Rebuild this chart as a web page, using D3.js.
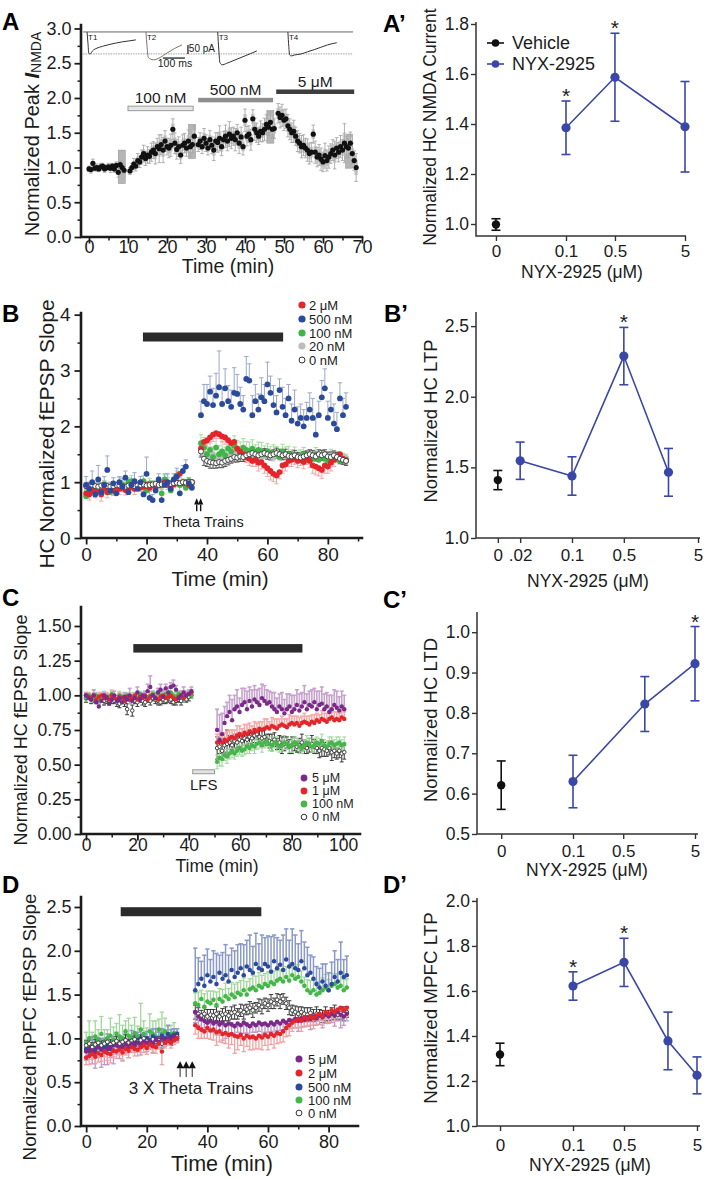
<!DOCTYPE html>
<html><head><meta charset="utf-8"><title>NYX-2925 figure</title>
<script src="https://cdn.jsdelivr.net/npm/d3@7/dist/d3.min.js"></script>
<style>html,body{margin:0;padding:0;background:#fff}svg{display:block}</style>
</head><body>
<svg id="fig" width="712" height="1179" xmlns="http://www.w3.org/2000/svg"></svg>
<script>
/* ========================= DATA ========================= */
// ---- Panel A : normalized peak I_NMDA over time (0.5-min samples) ----
const aTimeStep = 0.5;
const aSegStart = [0, 10.5, 28, 48.5];
const aBaseline = [0.98,0.97,1.06,0.99,1.0,0.98,1.01,1.02,0.98,1.0,1.01,0.99,1.02,0.98,1.03,0.93,1.04,1.0,0.96];
const aBaselineErr = [0.04,0.05,0.06,0.04,0.05,0.04,0.05,0.04,0.05,0.04,0.05,0.06,0.04,0.05,0.05,0.07,0.05,0.04,0.05];
const a100nM = [0.95,1.0,1.05,1.02,1.1,1.08,1.15,1.2,1.13,1.18,1.16,1.22,1.25,1.2,1.3,1.27,1.33,1.25,1.38,1.3,1.28,1.32,1.55,1.35,1.26,1.3,1.18,1.32,1.35,1.28,1.38,1.3,1.33,1.45];
const a100nMErr = [0.05,0.06,0.08,0.07,0.1,0.08,0.1,0.12,0.1,0.12,0.1,0.13,0.12,0.15,0.12,0.2,0.14,0.18,0.15,0.12,0.14,0.16,0.15,0.15,0.14,0.14,0.12,0.15,0.14,0.12,0.16,0.14,0.12,0.15];
const a500nM = [1.33,1.38,1.3,1.42,1.35,1.28,1.4,1.32,1.25,1.38,1.36,1.42,1.3,1.4,1.45,1.38,1.48,1.42,1.45,1.4,1.5,1.35,1.44,1.3,1.68,1.45,1.48,1.4,1.7,1.55,1.5,1.45,1.52,1.5,1.55,1.62,1.58,1.65,1.55,1.56];
const a500nMErr = [0.1,0.12,0.1,0.14,0.12,0.1,0.13,0.12,0.15,0.12,0.14,0.18,0.13,0.12,0.16,0.14,0.18,0.15,0.13,0.16,0.12,0.15,0.14,0.12,0.16,0.14,0.12,0.15,0.13,0.16,0.14,0.12,0.15,0.13,0.16,0.14,0.12,0.15,0.13,0.14];
const a5uM = [1.78,1.72,1.75,1.68,1.7,1.6,1.55,1.5,1.52,1.45,1.38,1.35,1.3,1.32,1.28,1.25,1.2,1.22,1.48,1.22,1.15,1.18,1.12,1.08,1.17,1.1,1.15,1.2,1.25,1.18,1.28,1.22,1.3,1.25,1.35,1.3,1.28,1.35,1.2,1.1,1.0];
const a5uMErr = [0.14,0.15,0.16,0.15,0.14,0.16,0.15,0.14,0.16,0.13,0.15,0.14,0.16,0.15,0.14,0.16,0.15,0.14,0.13,0.16,0.14,0.15,0.16,0.14,0.18,0.15,0.16,0.14,0.15,0.2,0.15,0.14,0.16,0.15,0.28,0.15,0.14,0.16,0.15,0.14,0.2];
const aBoxT = [8.4, 26.4, 46.5, 66.7];
const aBoxLo = [0.77, 1.13, 1.35, 0.99];
const aBoxHi = [1.25, 1.62, 1.82, 1.48];
const aDrugLabels = ['100 nM', '500 nM', '5 μM'];
const aDrugStart = [10, 28, 48];
const aDrugEnd = [26.7, 47.2, 68];
const aDrugLevel = [1.85, 1.97, 2.09];
const aDrugFill = ['#e6e6e6', '#8e8e8e', '#3d3d3d'];
// inset current traces (ms, pA)
const traceNames = ['T1','T2','T3','T4'];
const traceOnsetMin = [-0.5, 14.6, 33, 51];
const traceMs = [
  [0,4,8,14,25,45,70,100,130,160,190,222],
  [0,5,10,20,35,55,80,105,130,150,164],
  [0,5,10,20,40,60,90,120,150,178],
  [0,4,8,15,30,60,90,120,150,180,222]];
const tracePA = [
  [0,-60,-118,-122,-105,-90,-80,-70,-62,-55,-50,-44],
  [0,-80,-140,-150,-155,-148,-130,-110,-92,-80,-72],
  [0,-100,-170,-183,-175,-165,-150,-135,-120,-105],
  [0,-80,-128,-133,-128,-122,-110,-98,-85,-72,-60]];

// ---- Panel A' ----
const apVehicle = {mean: 0.998, err: 0.023};
const apDose = [0.1, 0.5, 5];
const apMean = [1.385, 1.587, 1.389];
const apErr = [0.107, 0.176, 0.181];
const apStar = [0.1, 0.5];

// ---- Panel B : HC fEPSP slope (1-min samples) ----
const bBaseT = d3.range(0, 36);
const bPostT = d3.range(38, 87);
const b0Base = [0.93,0.94,0.95,0.93,0.92,0.94,0.95,0.93,0.92,0.93,0.95,0.94,0.93,0.92,0.94,0.95,0.93,0.94,0.95,0.96,0.94,0.95,0.96,0.97,0.95,0.96,0.97,0.98,0.97,0.98,0.99,0.98,1.0,0.99,1.0,1.0];
const b0BaseErr = [0.05,0.04,0.05,0.04,0.05,0.04,0.05,0.04,0.04,0.05,0.04,0.05,0.04,0.04,0.05,0.04,0.05,0.04,0.04,0.05,0.04,0.05,0.04,0.04,0.05,0.04,0.05,0.04,0.04,0.05,0.04,0.04,0.03,0.04,0.03,0.03];
const b0Post = [1.55,1.42,1.38,1.36,1.35,1.34,1.36,1.35,1.38,1.4,1.42,1.45,1.44,1.46,1.45,1.48,1.5,1.52,1.5,1.48,1.5,1.52,1.5,1.48,1.5,1.52,1.5,1.48,1.5,1.47,1.46,1.48,1.45,1.44,1.46,1.48,1.5,1.48,1.46,1.5,1.48,1.5,1.46,1.45,1.48,1.45,1.42,1.4,1.38];
const b0PostErr = [0.1,0.12,0.1,0.11,0.1,0.09,0.1,0.09,0.1,0.09,0.08,0.09,0.08,0.09,0.08,0.08,0.09,0.08,0.08,0.09,0.08,0.08,0.09,0.08,0.08,0.09,0.08,0.08,0.09,0.08,0.08,0.09,0.08,0.08,0.09,0.08,0.08,0.09,0.08,0.08,0.09,0.08,0.08,0.09,0.08,0.08,0.09,0.08,0.08];
const b20Base = [0.95,0.93,0.96,0.92,0.95,0.94,0.93,0.95,0.96,0.94,0.92,0.95,0.96,0.95,0.93,0.96,0.97,0.95,0.94,0.96,0.97,0.95,0.98,0.96,0.97,0.98,0.96,0.99,0.98,0.97,1.0,0.99,0.98,1.0,1.01,1.0];
const b20BaseErr = [0.04,0.05,0.04,0.04,0.05,0.04,0.04,0.05,0.04,0.04,0.05,0.04,0.04,0.05,0.04,0.04,0.05,0.04,0.04,0.05,0.04,0.04,0.05,0.04,0.04,0.05,0.04,0.04,0.05,0.04,0.04,0.05,0.04,0.04,0.05,0.04];
const b20Post = [1.55,1.5,1.48,1.45,1.5,1.42,1.48,1.45,1.5,1.46,1.48,1.5,1.45,1.48,1.5,1.46,1.48,1.45,1.5,1.47,1.45,1.48,1.5,1.46,1.44,1.48,1.45,1.5,1.46,1.48,1.45,1.47,1.44,1.46,1.48,1.45,1.47,1.44,1.46,1.45,1.47,1.44,1.46,1.48,1.45,1.44,1.46,1.45,1.43];
const b20PostErr = [0.07,0.06,0.07,0.06,0.06,0.07,0.06,0.06,0.07,0.06,0.06,0.07,0.06,0.06,0.07,0.06,0.06,0.07,0.06,0.06,0.07,0.06,0.06,0.07,0.06,0.06,0.07,0.06,0.06,0.07,0.06,0.06,0.07,0.06,0.06,0.07,0.06,0.06,0.07,0.06,0.06,0.07,0.06,0.06,0.07,0.06,0.06,0.07,0.06];
const b100Base = [0.75,0.8,0.88,0.92,0.85,0.82,0.95,0.88,0.82,0.9,0.85,0.98,0.95,0.9,1.0,1.02,0.88,0.92,0.95,1.02,0.85,0.98,0.95,0.9,1.02,0.8,1.05,0.98,0.85,1.0,1.12,0.95,1.0,0.9,1.02,0.98];
const b100BaseErr = [0.1,0.08,0.1,0.07,0.09,0.1,0.08,0.1,0.07,0.09,0.08,0.1,0.07,0.09,0.08,0.1,0.07,0.09,0.08,0.1,0.07,0.09,0.08,0.1,0.07,0.09,0.08,0.1,0.07,0.09,0.08,0.07,0.06,0.07,0.06,0.05];
const b100Post = [1.7,1.62,1.5,1.58,1.45,1.62,1.5,1.55,1.48,1.6,1.55,1.65,1.6,1.55,1.62,1.58,1.55,1.6,1.52,1.58,1.55,1.5,1.55,1.48,1.52,1.5,1.45,1.55,1.48,1.5,1.45,1.48,1.42,1.45,1.5,1.4,1.45,1.42,1.48,1.4,1.45,1.42,1.38,1.45,1.4,1.42,1.38,1.4,1.38];
const b100PostErr = [0.15,0.18,0.2,0.15,0.18,0.2,0.16,0.18,0.15,0.2,0.16,0.18,0.15,0.17,0.16,0.15,0.17,0.16,0.15,0.14,0.16,0.15,0.14,0.16,0.15,0.14,0.15,0.13,0.15,0.14,0.13,0.15,0.14,0.13,0.12,0.14,0.13,0.12,0.14,0.13,0.12,0.13,0.12,0.14,0.12,0.13,0.12,0.11,0.12];
const b500Base = [0.95,0.88,1.0,0.78,1.05,0.82,0.95,1.22,0.85,0.98,0.8,1.0,0.92,1.08,0.82,0.95,1.02,0.88,1.0,0.78,1.15,0.72,0.68,0.85,1.05,0.68,0.95,1.0,0.88,1.05,1.1,0.8,1.2,1.28,0.98,0.9];
const b500BaseErr = [0.15,0.12,0.2,0.1,0.25,0.12,0.15,0.25,0.12,0.1,0.18,0.1,0.15,0.12,0.2,0.1,0.15,0.12,0.1,0.15,0.3,0.12,0.1,0.15,0.1,0.12,0.2,0.15,0.12,0.1,0.15,0.12,0.1,0.12,0.1,0.08];
const b500Post = [2.2,2.45,2.4,2.62,2.38,2.55,2.7,2.4,2.68,2.45,2.35,2.6,2.58,2.4,2.3,2.85,2.82,2.2,2.45,2.3,2.52,2.45,2.75,2.6,2.38,2.25,2.65,2.35,2.2,2.5,2.1,2.3,2.05,2.15,2.0,2.15,2.3,2.15,1.85,2.2,2.52,2.68,2.15,2.3,2.05,1.95,2.5,2.2,2.35];
const b500PostErr = [0.25,0.3,0.35,0.28,0.3,0.4,0.65,0.3,0.35,0.28,0.3,0.45,0.35,0.3,0.25,0.4,0.3,0.35,0.3,0.28,0.35,0.3,0.4,0.3,0.35,0.3,0.2,0.35,0.3,0.25,0.3,0.35,0.3,0.25,0.3,0.28,0.3,0.35,0.3,0.25,0.3,0.35,0.3,0.3,0.35,0.3,0.28,0.3,0.25];
const b2uBase = [0.8,0.78,0.85,0.82,0.85,0.78,0.88,0.82,0.9,0.85,0.92,0.88,0.9,0.86,0.9,0.92,0.88,0.95,0.9,0.92,0.95,0.9,0.95,0.92,0.98,0.95,1.0,0.95,0.98,0.96,1.0,1.15,0.98,1.0,0.95,1.0];
const b2uBaseErr = [0.08,0.1,0.08,0.1,0.07,0.12,0.08,0.1,0.07,0.09,0.08,0.1,0.07,0.09,0.08,0.07,0.1,0.08,0.07,0.09,0.08,0.07,0.09,0.08,0.07,0.08,0.06,0.08,0.07,0.06,0.08,0.07,0.06,0.07,0.06,0.05];
const b2uPost = [1.6,1.72,1.75,1.8,1.85,1.88,1.86,1.82,1.8,1.75,1.7,1.72,1.6,1.55,1.5,1.45,1.42,1.38,1.4,1.35,1.36,1.3,1.25,1.2,1.15,1.12,1.18,1.3,1.32,1.38,1.4,1.42,1.38,1.4,1.36,1.42,1.38,1.3,1.28,1.25,1.22,1.3,1.28,1.35,1.4,1.45,1.5,1.42,1.4];
const b2uPostErr = [0.12,0.1,0.12,0.1,0.12,0.1,0.08,0.1,0.12,0.1,0.12,0.1,0.12,0.1,0.12,0.1,0.12,0.1,0.12,0.15,0.12,0.14,0.15,0.16,0.14,0.15,0.12,0.14,0.12,0.1,0.12,0.1,0.12,0.1,0.12,0.1,0.12,0.14,0.15,0.14,0.15,0.14,0.12,0.15,0.12,0.1,0.12,0.1,0.08];
const bDrugBar = {start: 18.8, end: 65.2, level: 3.6};
const bTheta = [36.6, 37.9];

// ---- Panel B' ----
const bpVehicle = {mean: 1.41, err: 0.068};
const bpDose = [0.02, 0.1, 0.5, 2];
const bpMean = [1.547, 1.439, 2.288, 1.465];
const bpErr = [0.132, 0.136, 0.203, 0.169];
const bpStar = [0.5];

// ---- Panel C : HC fEPSP slope, LTD ----
const cBaseT = d3.range(0, 42);
const cPostT = d3.range(51, 101.4, 0.97);
const cPurpleBase = [1.0,0.98,0.97,1.0,0.95,0.92,0.96,1.0,0.98,0.94,0.97,1.0,0.96,0.98,0.95,0.99,0.97,1.0,0.96,0.98,1.02,0.97,1.0,0.99,1.03,1.06,1.0,0.98,1.02,1.04,0.99,1.05,1.02,1.06,1.07,1.04,0.98,1.0,1.02,1.0,1.01,1.03];
const cPurpleBaseErr = [0.02,0.03,0.02,0.04,0.03,0.02,0.03,0.02,0.03,0.04,0.02,0.03,0.02,0.03,0.04,0.03,0.02,0.05,0.03,0.02,0.04,0.03,0.02,0.04,0.05,0.08,0.03,0.04,0.03,0.04,0.05,0.03,0.04,0.03,0.04,0.03,0.05,0.03,0.04,0.03,0.02,0.03];
const cPurplePost = [0.75,0.68,0.72,0.8,0.85,0.88,0.82,0.9,0.92,0.88,0.93,0.95,0.9,0.96,0.92,0.97,0.95,0.93,0.98,0.96,0.94,0.95,0.92,0.9,0.88,0.92,0.9,0.87,0.9,0.92,0.88,0.9,0.93,0.89,0.92,0.95,0.9,0.93,0.92,0.95,0.9,0.93,0.94,0.9,0.92,0.88,0.9,0.93,0.91,0.89,0.92,0.9];
const cPurplePostErr = [0.15,0.18,0.15,0.12,0.1,0.12,0.15,0.1,0.12,0.1,0.12,0.1,0.13,0.1,0.12,0.1,0.09,0.12,0.1,0.11,0.1,0.08,0.1,0.12,0.1,0.09,0.12,0.1,0.11,0.09,0.12,0.1,0.11,0.12,0.1,0.12,0.11,0.1,0.12,0.1,0.13,0.1,0.12,0.11,0.1,0.12,0.1,0.11,0.12,0.1,0.11,0.1];
const cRedBase = [1.0,0.99,0.98,1.0,0.97,0.99,1.0,0.98,0.99,0.97,1.0,0.98,0.97,0.99,0.98,0.96,0.99,0.97,0.98,1.0,0.97,0.99,0.98,1.0,0.97,0.99,1.0,0.98,0.97,0.99,1.0,0.98,0.99,1.0,0.98,0.97,0.99,1.0,0.98,1.0,1.01,1.02];
const cRedBaseErr = [0.02,0.03,0.02,0.04,0.02,0.03,0.02,0.02,0.03,0.02,0.03,0.02,0.02,0.03,0.02,0.04,0.02,0.03,0.02,0.02,0.03,0.02,0.03,0.02,0.02,0.03,0.02,0.03,0.02,0.02,0.03,0.02,0.03,0.02,0.02,0.03,0.02,0.03,0.02,0.02,0.03,0.02];
const cRedPost = [0.66,0.67,0.66,0.68,0.67,0.69,0.7,0.69,0.71,0.72,0.71,0.73,0.72,0.74,0.73,0.75,0.74,0.76,0.75,0.76,0.77,0.76,0.78,0.77,0.76,0.78,0.79,0.78,0.77,0.79,0.8,0.79,0.8,0.78,0.8,0.81,0.8,0.79,0.81,0.8,0.82,0.81,0.83,0.82,0.81,0.83,0.84,0.82,0.83,0.82,0.84,0.83];
const cRedPostErr = [0.06,0.07,0.06,0.05,0.07,0.06,0.05,0.06,0.07,0.06,0.05,0.06,0.07,0.06,0.05,0.06,0.06,0.05,0.06,0.07,0.06,0.05,0.06,0.06,0.07,0.05,0.06,0.05,0.06,0.07,0.05,0.06,0.05,0.06,0.05,0.06,0.05,0.06,0.05,0.06,0.05,0.05,0.06,0.05,0.06,0.05,0.05,0.06,0.05,0.05,0.06,0.05];
const cGreenBase = [0.99,1.0,0.98,0.99,1.0,0.97,0.99,1.0,0.98,0.99,1.01,0.98,0.97,1.0,0.99,0.98,1.0,0.97,0.99,1.0,0.98,1.01,0.99,1.0,0.98,1.0,1.01,0.99,1.02,1.0,0.99,1.01,1.0,1.02,1.0,0.99,1.01,1.0,0.98,1.0,1.01,1.0];
const cGreenBaseErr = [0.03,0.02,0.03,0.03,0.02,0.03,0.02,0.03,0.03,0.02,0.03,0.02,0.03,0.03,0.02,0.03,0.02,0.03,0.03,0.02,0.03,0.02,0.03,0.03,0.02,0.03,0.02,0.03,0.03,0.02,0.03,0.02,0.03,0.03,0.02,0.03,0.02,0.03,0.03,0.02,0.03,0.02];
const cGreenPost = [0.52,0.55,0.54,0.57,0.56,0.58,0.6,0.58,0.6,0.62,0.6,0.61,0.63,0.62,0.64,0.63,0.65,0.66,0.64,0.66,0.67,0.65,0.64,0.66,0.65,0.63,0.64,0.66,0.65,0.63,0.64,0.66,0.65,0.63,0.62,0.64,0.66,0.65,0.63,0.64,0.66,0.65,0.67,0.64,0.63,0.65,0.66,0.64,0.65,0.66,0.64,0.65];
const cGreenPostErr = [0.05,0.06,0.05,0.04,0.05,0.04,0.05,0.04,0.04,0.05,0.04,0.04,0.05,0.04,0.04,0.05,0.04,0.04,0.05,0.04,0.04,0.05,0.04,0.04,0.05,0.04,0.04,0.05,0.04,0.04,0.05,0.04,0.04,0.05,0.04,0.04,0.05,0.04,0.04,0.05,0.04,0.04,0.05,0.04,0.04,0.05,0.04,0.04,0.05,0.04,0.04,0.05];
const cOpenBase = [0.98,0.99,0.97,0.98,0.96,0.97,0.98,0.96,0.97,0.95,0.97,0.96,0.95,0.94,0.96,0.95,0.9,0.97,0.89,0.96,0.95,0.97,0.96,0.95,0.97,0.96,0.98,0.97,0.96,0.95,0.97,0.96,0.98,0.97,0.95,0.96,0.97,0.96,0.98,0.97,0.99,1.0];
const cOpenBaseErr = [0.03,0.02,0.03,0.03,0.02,0.03,0.02,0.03,0.03,0.02,0.03,0.02,0.03,0.03,0.02,0.03,0.04,0.03,0.04,0.02,0.03,0.02,0.03,0.03,0.02,0.03,0.02,0.03,0.03,0.02,0.03,0.02,0.03,0.03,0.02,0.03,0.02,0.03,0.03,0.02,0.03,0.02];
const cOpenPost = [0.62,0.63,0.6,0.64,0.65,0.66,0.64,0.67,0.66,0.68,0.67,0.69,0.68,0.7,0.69,0.71,0.72,0.7,0.69,0.7,0.68,0.67,0.66,0.68,0.65,0.66,0.64,0.65,0.66,0.63,0.64,0.65,0.63,0.64,0.66,0.63,0.62,0.64,0.65,0.63,0.62,0.6,0.62,0.61,0.6,0.62,0.59,0.6,0.58,0.6,0.58,0.59];
const cOpenPostErr = [0.08,0.05,0.06,0.05,0.1,0.05,0.06,0.05,0.04,0.05,0.06,0.05,0.04,0.05,0.06,0.05,0.04,0.05,0.06,0.05,0.04,0.05,0.06,0.05,0.04,0.05,0.06,0.05,0.04,0.05,0.06,0.05,0.04,0.05,0.06,0.05,0.04,0.05,0.06,0.05,0.04,0.05,0.06,0.05,0.04,0.05,0.06,0.05,0.04,0.05,0.06,0.05];
const cDrugBar = {start: 18.4, end: 84.2, level: 1.339};
const cLFS = {start: 41.5, end: 50, level: 0.449};

// ---- Panel C' ----
const cpVehicle = {mean: 0.621, err: 0.06};
const cpDose = [0.1, 1, 5];
const cpMean = [0.63, 0.822, 0.922];
const cpErr = [0.065, 0.068, 0.092];
const cpStar = [5];

// ---- Panel D : mPFC fEPSP slope ----
const dBaseT = d3.range(0, 31);
const dPostT = d3.range(36, 87);
const dBlueBase = [0.88,0.85,0.9,0.87,0.92,0.89,0.9,0.93,0.88,0.92,0.95,0.93,0.9,0.96,0.94,0.97,0.95,0.98,1.0,0.96,1.0,0.98,1.02,1.0,0.97,1.03,1.0,1.05,1.02,1.04,1.05];
const dBlueBaseErr = [0.1,0.08,0.12,0.1,0.09,0.11,0.1,0.12,0.09,0.1,0.12,0.1,0.11,0.09,0.1,0.12,0.1,0.09,0.11,0.1,0.08,0.1,0.09,0.11,0.1,0.08,0.09,0.1,0.08,0.07,0.06];
const dBluePost = [1.55,1.62,1.68,1.6,1.72,1.65,1.7,1.62,1.75,1.68,1.72,1.65,1.78,1.7,1.75,1.8,1.72,1.82,1.78,1.75,1.85,1.8,1.78,1.85,1.82,1.76,1.88,1.8,1.84,1.78,1.9,1.82,1.85,1.8,1.78,1.88,1.8,1.72,1.75,1.68,1.62,1.58,1.65,1.6,1.55,1.62,1.7,1.65,1.75,1.7,1.72];
const dBluePostErr = [0.48,0.3,0.2,0.35,0.3,0.25,0.3,0.35,0.2,0.3,0.35,0.3,0.25,0.3,0.32,0.28,0.35,0.3,0.4,0.3,0.35,0.28,0.4,0.3,0.35,0.4,0.3,0.35,0.28,0.4,0.35,0.3,0.4,0.38,0.3,0.35,0.3,0.32,0.2,0.25,0.2,0.22,0.2,0.25,0.2,0.25,0.3,0.25,0.35,0.2,0.22];
const dGreenBase = [0.95,1.0,0.92,1.02,0.98,1.05,0.95,1.0,1.03,0.98,1.05,1.02,1.0,1.08,1.03,1.0,1.06,1.02,1.1,1.05,1.0,1.08,1.05,1.02,1.1,1.05,1.08,1.02,1.05,1.06,1.03];
const dGreenBaseErr = [0.12,0.2,0.15,0.18,0.12,0.2,0.15,0.1,0.2,0.15,0.12,0.25,0.15,0.12,0.2,0.15,0.18,0.12,0.3,0.15,0.12,0.2,0.15,0.18,0.12,0.25,0.15,0.12,0.1,0.12,0.08];
const dGreenPost = [1.4,1.38,1.45,1.36,1.42,1.4,1.44,1.38,1.45,1.42,1.48,1.45,1.5,1.47,1.52,1.5,1.55,1.5,1.56,1.58,1.55,1.6,1.58,1.62,1.6,1.64,1.62,1.66,1.68,1.65,1.7,1.66,1.72,1.68,1.7,1.65,1.6,1.55,1.52,1.55,1.5,1.52,1.55,1.58,1.55,1.6,1.62,1.58,1.6,1.55,1.58];
const dGreenPostErr = [0.12,0.15,0.1,0.15,0.12,0.14,0.1,0.15,0.12,0.14,0.15,0.12,0.14,0.15,0.12,0.16,0.14,0.15,0.12,0.14,0.16,0.15,0.14,0.12,0.16,0.14,0.15,0.12,0.1,0.14,0.12,0.15,0.1,0.12,0.14,0.12,0.1,0.12,0.14,0.12,0.15,0.12,0.14,0.15,0.12,0.14,0.12,0.15,0.14,0.12,0.1];
const dOpenBase = [0.92,0.94,0.9,0.93,0.95,0.92,0.94,0.96,0.93,0.95,0.97,0.94,0.96,0.98,0.95,0.97,0.99,0.96,0.98,1.0,0.97,0.95,0.99,0.96,0.98,0.94,0.97,0.99,0.98,1.0,1.02];
const dOpenBaseErr = [0.05,0.04,0.05,0.06,0.04,0.05,0.04,0.05,0.06,0.04,0.05,0.04,0.05,0.06,0.04,0.05,0.04,0.05,0.06,0.04,0.05,0.04,0.05,0.06,0.04,0.05,0.04,0.05,0.06,0.04,0.05];
const dOpenPost = [1.3,1.28,1.26,1.28,1.25,1.27,1.26,1.28,1.25,1.27,1.28,1.26,1.29,1.3,1.28,1.32,1.3,1.33,1.35,1.32,1.35,1.38,1.36,1.4,1.38,1.42,1.4,1.44,1.42,1.45,1.4,1.35,1.32,1.3,1.28,1.3,1.28,1.27,1.29,1.26,1.28,1.27,1.25,1.28,1.26,1.28,1.3,1.27,1.29,1.28,1.3];
const dOpenPostErr = [0.08,0.07,0.06,0.07,0.08,0.06,0.07,0.08,0.06,0.07,0.08,0.06,0.07,0.08,0.06,0.07,0.08,0.06,0.07,0.08,0.06,0.07,0.08,0.06,0.07,0.08,0.06,0.07,0.08,0.06,0.07,0.08,0.06,0.07,0.08,0.06,0.07,0.08,0.06,0.07,0.08,0.06,0.07,0.08,0.06,0.07,0.08,0.06,0.07,0.08,0.06];
const dPurpleBase = [0.85,0.88,0.86,0.84,0.9,0.87,0.85,0.88,0.9,0.86,0.92,0.89,0.9,0.93,0.9,0.94,0.92,0.95,0.93,0.96,0.95,0.97,0.94,0.98,0.96,1.0,0.97,1.0,0.98,1.02,1.0];
const dPurpleBaseErr = [0.1,0.12,0.15,0.18,0.12,0.2,0.15,0.18,0.12,0.15,0.1,0.12,0.15,0.1,0.12,0.1,0.08,0.1,0.12,0.08,0.1,0.08,0.1,0.06,0.08,0.1,0.06,0.08,0.05,0.06,0.05];
const dPurplePost = [1.3,1.25,1.22,1.2,1.18,1.2,1.17,1.19,1.16,1.18,1.15,1.17,1.16,1.14,1.17,1.15,1.18,1.16,1.14,1.17,1.15,1.18,1.16,1.17,1.15,1.18,1.16,1.19,1.17,1.2,1.18,1.21,1.2,1.22,1.2,1.23,1.21,1.24,1.22,1.25,1.23,1.26,1.24,1.27,1.25,1.28,1.26,1.3,1.27,1.25,1.28];
const dPurplePostErr = [0.12,0.1,0.12,0.08,0.1,0.12,0.1,0.15,0.12,0.2,0.15,0.12,0.1,0.12,0.1,0.15,0.12,0.1,0.12,0.1,0.08,0.1,0.12,0.1,0.08,0.1,0.12,0.1,0.08,0.1,0.08,0.1,0.08,0.1,0.12,0.1,0.08,0.1,0.12,0.1,0.08,0.1,0.12,0.1,0.08,0.1,0.12,0.1,0.15,0.1,0.08];
const dRedBase = [0.78,0.8,0.82,0.79,0.83,0.81,0.85,0.83,0.82,0.86,0.85,0.87,0.84,0.88,0.86,0.9,0.88,0.87,0.9,0.92,0.89,0.93,0.91,0.9,0.94,0.85,0.95,0.97,0.95,0.98,1.0];
const dRedBaseErr = [0.08,0.1,0.06,0.08,0.1,0.07,0.06,0.08,0.1,0.07,0.08,0.06,0.1,0.07,0.08,0.06,0.08,0.07,0.06,0.08,0.07,0.06,0.08,0.07,0.06,0.15,0.06,0.05,0.06,0.05,0.04];
const dRedPost = [1.15,1.12,1.1,1.08,1.12,1.09,1.1,1.07,1.08,1.05,1.06,1.04,1.05,1.03,1.02,1.04,1.0,1.03,1.01,1.02,1.0,1.03,1.01,1.04,1.02,1.05,1.03,1.06,1.05,1.08,1.12,1.15,1.18,1.2,1.22,1.2,1.24,1.22,1.25,1.23,1.26,1.28,1.25,1.3,1.28,1.32,1.3,1.33,1.35,1.32,1.35];
const dRedPostErr = [0.1,0.12,0.1,0.08,0.12,0.1,0.12,0.15,0.12,0.1,0.12,0.15,0.12,0.2,0.15,0.12,0.15,0.12,0.14,0.15,0.12,0.15,0.14,0.12,0.15,0.12,0.14,0.12,0.1,0.12,0.1,0.12,0.1,0.08,0.1,0.12,0.1,0.08,0.1,0.12,0.1,0.08,0.1,0.08,0.1,0.08,0.1,0.08,0.1,0.08,0.1];
const dDrugBar = {start: 11.4, end: 57.8, level: 2.446};
const dTheta = [31, 33, 35];

// ---- Panel D' ----
const dpVehicle = {mean: 1.318, err: 0.05};
const dpDose = [0.1, 0.5, 2, 5];
const dpMean = [1.622, 1.727, 1.378, 1.225];
const dpErr = [0.063, 0.107, 0.128, 0.082];
const dpStar = [0.1, 0.5];

/* ========================= DRAWING ========================= */
const svg = d3.select('#fig');
const FONT = '"Liberation Sans", Arial, Helvetica, sans-serif';
const INK = '#1c1c1c';
const BLUE_LINE = '#3a47a6';
const ZERO = 0.01; // position used for the "0" (vehicle) category on log axes

function txt(x, y, s, fs, o = {}) {
  const t = svg.append('text').attr('x', x).attr('y', y).text(s)
    .attr('font-size', fs).attr('font-family', FONT).attr('fill', o.fill || INK)
    .attr('text-anchor', o.anchor || 'start');
  if (o.bold) t.attr('font-weight', 'bold');
  if (o.rot) t.attr('transform', `rotate(-90,${x},${y})`).attr('dominant-baseline', 'central');
  return t;
}

function styleAxis(a, fs, labY, isX) {
  a.select('.domain').remove();
  a.selectAll('line').attr('stroke', INK);
  a.selectAll('text').attr('font-size', fs).attr('font-family', FONT).attr('fill', INK);
  if (isX && labY != null) a.selectAll('text').attr('y', labY).attr('dy', 0);
}

function leftPanel(L) {
  const x = d3.scaleLinear().domain(L.xDom).range([L.x0, L.x1]);
  const y = d3.scaleLinear().domain(L.yDom).range([L.yb, L.yt]);
  const g = svg.append('g');
  g.append('g').attr('transform', `translate(0,${L.yb})`)
    .call(d3.axisBottom(x).tickValues(L.xMinor).tickSize(3.5).tickFormat(''))
    .call(a => { styleAxis(a); a.selectAll('line').attr('stroke-width', 1.5); });
  g.append('g').attr('transform', `translate(0,${L.yb})`)
    .call(d3.axisBottom(x).tickValues(L.xTicks).tickSize(6.5).tickFormat(d3.format('d')))
    .call(a => { styleAxis(a, L.fs, L.xLab, true); a.selectAll('line').attr('stroke-width', 1.8); });
  g.append('g').attr('transform', `translate(${L.x0},0)`)
    .call(d3.axisLeft(y).tickValues(L.yMinor).tickSize(3.5).tickFormat(''))
    .call(a => { styleAxis(a); a.selectAll('line').attr('stroke-width', 1.5); });
  g.append('g').attr('transform', `translate(${L.x0},0)`)
    .call(d3.axisLeft(y).tickValues(L.yTicks).tickSize(6.5).tickPadding(L.yPad).tickFormat(d3.format(L.yFmt)))
    .call(a => { styleAxis(a, L.fs); a.selectAll('line').attr('stroke-width', 1.8); });
  g.append('path').attr('d', `M${L.x0},${L.yt}V${L.yb}H${L.x1}`)
    .attr('fill', 'none').attr('stroke', INK).attr('stroke-width', 2.6).attr('stroke-linecap', 'square');
  return {x, y};
}

function rightPanel(R) {
  const x = d3.scaleLog().domain([0.1, 5]).range(R.xr);
  const y = d3.scaleLinear().domain(R.yDom).range([R.yb, R.yt]);
  const X = d => x(d === 0 ? ZERO : d);
  const g = svg.append('g');
  g.append('g').attr('transform', `translate(0,${R.yb})`)
    .call(d3.axisBottom(x).tickValues(R.xTickVals.map(v => v === 0 ? ZERO : v)).tickSize(5)
      .tickFormat((d, i) => R.xTickLabels[i]))
    .call(a => { styleAxis(a, 17, R.xLab, true); a.selectAll('line').attr('stroke-width', 1.4).attr('stroke', '#333'); });
  g.append('g').attr('transform', `translate(${R.x0},0)`)
    .call(d3.axisLeft(y).tickValues(R.yTicks).tickSize(5).tickPadding(2).tickFormat(d3.format('.1f')))
    .call(a => { styleAxis(a, 17.5); a.selectAll('line').attr('stroke-width', 1.4).attr('stroke', '#333'); });
  g.append('path').attr('d', `M${R.x0},${R.yt}V${R.yb}H${R.x1}`)
    .attr('fill', 'none').attr('stroke', '#333').attr('stroke-width', 1.5);

  const errBar = (gg, cx, m, e, col) => {
    gg.append('line').attr('x1', cx).attr('x2', cx).attr('y1', y(m - e)).attr('y2', y(m + e)).attr('stroke', col).attr('stroke-width', 1.6);
    [m - e, m + e].forEach(v => gg.append('line').attr('x1', cx - 4.5).attr('x2', cx + 4.5).attr('y1', y(v)).attr('y2', y(v)).attr('stroke', col).attr('stroke-width', 1.6));
  };
  const dg = svg.append('g');
  errBar(dg, X(0), R.vehicle.mean, R.vehicle.err, '#111');
  dg.append('circle').attr('cx', X(0)).attr('cy', y(R.vehicle.mean)).attr('r', 4.2).attr('fill', '#111');
  const pts = R.dose.map((d, i) => ({d, m: R.mean[i], e: R.err[i]}));
  dg.append('path').datum(pts).attr('d', d3.line().x(p => X(p.d)).y(p => y(p.m)))
    .attr('fill', 'none').attr('stroke', BLUE_LINE).attr('stroke-width', 1.6);
  pts.forEach(p => errBar(dg, X(p.d), p.m, p.e, BLUE_LINE));
  dg.selectAll(null).data(pts).enter().append('circle')
    .attr('cx', p => X(p.d)).attr('cy', p => y(p.m)).attr('r', 4.6).attr('fill', BLUE_LINE);
  R.stars.forEach(s => {
    const i = R.dose.indexOf(s);
    txt(X(s), y(R.mean[i] + R.err[i]) + 2, '*', 21, {anchor: 'middle'});
  });
  return {x, y, X};
}

function scatter(x, y, list, r, capHalf) {
  const g = svg.append('g');
  list.forEach(s => {
    s.pts = [];
    s.segs.forEach(([ts, vs, es]) => vs.forEach((v, i) => { if (ts[i] != null) s.pts.push({t: ts[i], v, e: es[i] || 0}); }));
  });
  list.forEach(s => {
    const eg = g.append('g').attr('stroke', s.errC).attr('stroke-width', s.errW || 1);
    const lo = d => s.dir === 'up' ? d.v : d.v - d.e;
    const hi = d => s.dir === 'down' ? d.v : d.v + d.e;
    eg.selectAll(null).data(s.pts).enter().append('line')
      .attr('x1', d => x(d.t)).attr('x2', d => x(d.t)).attr('y1', d => y(lo(d))).attr('y2', d => y(hi(d)));
    const caps = [];
    s.pts.forEach(d => {
      if (s.dir !== 'down') caps.push({t: d.t, v: hi(d)});
      if (s.dir !== 'up') caps.push({t: d.t, v: lo(d)});
    });
    eg.selectAll(null).data(caps).enter().append('line')
      .attr('x1', d => x(d.t) - capHalf).attr('x2', d => x(d.t) + capHalf)
      .attr('y1', d => y(d.v)).attr('y2', d => y(d.v));
  });
  list.forEach(s => {
    g.append('g').selectAll(null).data(s.pts).enter().append('circle')
      .attr('cx', d => x(d.t)).attr('cy', d => y(d.v)).attr('r', s.open ? r - 0.4 : r)
      .attr('fill', s.fill).attr('stroke', s.stroke || 'none').attr('stroke-width', s.open ? 0.9 : 0);
  });
}

function legend(items, xDot, xText, ys, fs, r) {
  items.forEach((s, i) => {
    svg.append('circle').attr('cx', xDot).attr('cy', ys[i]).attr('r', s.open ? r - 0.6 : r)
      .attr('fill', s.fill).attr('stroke', s.stroke || 'none').attr('stroke-width', s.open ? 1 : 0);
    txt(xText, ys[i], s.label, fs).attr('dominant-baseline', 'central');
  });
}

function drugBar(x, y, bar, h, fill, stroke) {
  svg.append('rect').attr('x', x(bar.start)).attr('width', x(bar.end) - x(bar.start))
    .attr('y', y(bar.level) - h / 2).attr('height', h).attr('fill', fill)
    .attr('stroke', stroke || 'none').attr('stroke-width', 1);
}

/* ---------- Panel A ---------- */
const A = leftPanel({x0: 81, x1: 362, yt: 25, yb: 237, xDom: [-2.05, 70], yDom: [0, 3.05],
  xTicks: d3.range(0, 71, 10), xMinor: d3.range(5, 70, 10), yTicks: d3.range(0, 3.01, 0.5),
  yMinor: d3.range(0.25, 3, 0.5), yFmt: '.1f', fs: 18, xLab: 16, yPad: 3});
{
  const tx = d3.scaleLinear().domain([0, 100]).range([0, 22]);
  const ty = d3.scaleLinear().domain([0, -50]).range([A.y(2.95), A.y(2.95) + 9]);
  svg.append('line').attr('x1', A.x(-1.5)).attr('x2', A.x(67.7)).attr('y1', ty(0)).attr('y2', ty(0))
    .attr('stroke', '#555').attr('stroke-width', 0.9);
  svg.append('line').attr('x1', A.x(-1.5)).attr('x2', A.x(67.7)).attr('y1', ty(-122)).attr('y2', ty(-122))
    .attr('stroke', '#888').attr('stroke-width', 0.8).attr('stroke-dasharray', '1.5,1');
  traceNames.forEach((nm, k) => {
    const ox = A.x(traceOnsetMin[k]);
    const pts = traceMs[k].map((m, i) => [m, tracePA[k][i]]);
    svg.append('path').datum(pts).attr('d', d3.line().curve(d3.curveMonotoneX).x(d => ox + tx(d[0])).y(d => ty(d[1])))
      .attr('fill', 'none').attr('stroke', k === 1 ? '#777' : '#333').attr('stroke-width', 1);
    txt(ox + 1, ty(-46), nm, 8);
  });
  const o2 = A.x(traceOnsetMin[1]);
  svg.append('line').attr('x1', o2 + tx(77)).attr('x2', o2 + tx(177)).attr('y1', ty(-145)).attr('y2', ty(-145)).attr('stroke', '#222').attr('stroke-width', 1.3);
  svg.append('line').attr('x1', o2 + tx(191)).attr('x2', o2 + tx(191)).attr('y1', ty(-72)).attr('y2', ty(-122)).attr('stroke', '#222').attr('stroke-width', 1.3);
  txt(o2 + tx(195), ty(-112), '50 pA', 10);
  txt(o2 + tx(132), ty(-195), '100 ms', 10.5, {anchor: 'middle'});

  aDrugLabels.forEach((lab, i) => {
    const bar = {start: aDrugStart[i], end: aDrugEnd[i], level: aDrugLevel[i]};
    drugBar(A.x, A.y, bar, 4.5, aDrugFill[i], i === 0 ? '#999' : 'none');
    txt((A.x(bar.start) + A.x(bar.end)) / 2, A.y(bar.level) - 5, lab, 15.5, {anchor: 'middle'});
  });
  aBoxT.forEach((t, i) => svg.append('rect').attr('x', A.x(t) - 3.5).attr('width', 7)
    .attr('y', A.y(aBoxHi[i])).attr('height', A.y(aBoxLo[i]) - A.y(aBoxHi[i]))
    .attr('fill', '#b5b5b5').attr('stroke', '#999').attr('stroke-width', 0.6));
  const segs = [[aBaseline, aBaselineErr], [a100nM, a100nMErr], [a500nM, a500nMErr], [a5uM, a5uMErr]];
  const pts = [];
  segs.forEach(([vs, es], k) => vs.forEach((v, i) => pts.push({t: aSegStart[k] + i * aTimeStep, v, e: es[i]})));
  const g = svg.append('g');
  g.selectAll(null).data(pts).enter().append('rect')
    .attr('x', d => A.x(d.t) - 1.8).attr('width', 3.6).attr('y', d => A.y(d.v + d.e * 0.55))
    .attr('height', d => A.y(d.v - d.e * 0.55) - A.y(d.v + d.e * 0.55)).attr('fill', '#cfcfcf');
  g.selectAll(null).data(pts).enter().append('line')
    .attr('x1', d => A.x(d.t)).attr('x2', d => A.x(d.t)).attr('y1', d => A.y(d.v - d.e)).attr('y2', d => A.y(d.v + d.e))
    .attr('stroke', '#a8a8a8').attr('stroke-width', 0.9);
  ['-', '+'].forEach(sg => g.selectAll(null).data(pts).enter().append('line')
    .attr('x1', d => A.x(d.t) - 1.8).attr('x2', d => A.x(d.t) + 1.8)
    .attr('y1', d => A.y(sg === '+' ? d.v + d.e : d.v - d.e)).attr('y2', d => A.y(sg === '+' ? d.v + d.e : d.v - d.e))
    .attr('stroke', '#a8a8a8').attr('stroke-width', 0.9));
  g.selectAll(null).data(pts).enter().append('circle')
    .attr('cx', d => A.x(d.t)).attr('cy', d => A.y(d.v)).attr('r', 2.6).attr('fill', '#111');
}
{
  const t = txt(32, 134, 'Normalized Peak ', 20, {anchor: 'middle', rot: true});
  t.text(null);
  t.append('tspan').text('Normalized Peak ');
  t.append('tspan').attr('font-style', 'italic').attr('font-weight', 'bold').text('I');
  t.append('tspan').attr('font-size', 14).attr('dy', 4).text('NMDA');
  txt(228, 273, 'Time (min)', 19.5, {anchor: 'middle'});
}

/* ---------- Panel A' ---------- */
rightPanel({x0: 476, x1: 686, yt: 22, yb: 236, xr: [566, 685], yDom: [0.952, 1.808],
  yTicks: [1.0, 1.2, 1.4, 1.6, 1.8], xTickVals: [0, 0.1, 0.5, 5], xTickLabels: ['0', '0.1', '0.5', '5'], xLab: 21,
  vehicle: apVehicle, dose: apDose, mean: apMean, err: apErr, stars: apStar});
{
  const items = [{label: 'Vehicle', c: '#111'}, {label: 'NYX-2925', c: BLUE_LINE}];
  const ys = [43, 64];
  items.forEach((it, i) => {
    svg.append('line').attr('x1', 487).attr('x2', 504).attr('y1', ys[i]).attr('y2', ys[i]).attr('stroke', it.c).attr('stroke-width', 1.6);
    svg.append('circle').attr('cx', 495.5).attr('cy', ys[i]).attr('r', 3.8).attr('fill', it.c);
    txt(512, ys[i], it.label, 18).attr('dominant-baseline', 'central');
  });
  txt(430, 127, 'Normalized HC NMDA Current', 17.5, {anchor: 'middle', rot: true});
  txt(582, 278, 'NYX-2925 (μM)', 17.5, {anchor: 'middle'});
}

/* ---------- Panel B ---------- */
const B = leftPanel({x0: 81, x1: 362, yt: 313, yb: 538, xDom: [-1.7, 91.3], yDom: [0, 4.03],
  xTicks: [0, 20, 40, 60, 80], xMinor: [10, 30, 50, 70, 90], yTicks: [0, 1, 2, 3, 4],
  yMinor: [0.5, 1.5, 2.5, 3.5], yFmt: 'd', fs: 19, xLab: 23, yPad: 4});
const seriesB = {
  s20: {label: '20 nM', fill: '#bdbdbd', errC: '#d2d2d2', dir: 'both', segs: [[bBaseT, b20Base, b20BaseErr], [bPostT, b20Post, b20PostErr]]},
  s100: {label: '100 nM', fill: '#3fb548', errC: '#a7dba1', dir: 'up', segs: [[bBaseT, b100Base, b100BaseErr], [bPostT, b100Post, b100PostErr]]},
  s2u: {label: '2 μM', fill: '#e3262b', errC: '#f2a6a6', dir: 'down', segs: [[bBaseT, b2uBase, b2uBaseErr], [bPostT, b2uPost, b2uPostErr]]},
  s0: {label: '0 nM', fill: '#fff', stroke: '#333', open: true, errC: '#555', dir: 'both', segs: [[bBaseT, b0Base, b0BaseErr], [bPostT, b0Post, b0PostErr]]},
  s500: {label: '500 nM', fill: '#2b4a9b', errC: '#9aa8c9', dir: 'up', segs: [[bBaseT, b500Base, b500BaseErr], [bPostT, b500Post, b500PostErr]]}
};
drugBar(B.x, B.y, bDrugBar, 9, '#2b2b2b');
scatter(B.x, B.y, [seriesB.s20, seriesB.s100, seriesB.s2u, seriesB.s0, seriesB.s500], 2.9, 2.2);
legend([seriesB.s2u, seriesB.s500, seriesB.s100, seriesB.s20, seriesB.s0], 302, 309, [305, 319, 333, 346, 360], 13, 3.6);
bTheta.forEach(t => {
  const cx = B.x(t);
  svg.append('line').attr('x1', cx).attr('x2', cx).attr('y1', B.y(0.6)).attr('y2', B.y(0.48)).attr('stroke', '#111').attr('stroke-width', 1.4);
  svg.append('path').attr('d', `M${cx - 2.6},${B.y(0.6)}L${cx},${B.y(0.71)}L${cx + 2.6},${B.y(0.6)}Z`).attr('fill', '#111');
});
txt(B.x(38.8), 527, 'Theta Trains', 14.5, {anchor: 'middle'});
txt(46, 434, 'HC Normalized fEPSP Slope', 21, {anchor: 'middle', rot: true});
txt(220, 586, 'Time (min)', 20.5, {anchor: 'middle'});

/* ---------- Panel B' ---------- */
rightPanel({x0: 476, x1: 700, yt: 312, yb: 538, xr: [572, 698], yDom: [1.0, 2.6],
  yTicks: [1.0, 1.5, 2.0, 2.5], xTickVals: [0, 0.02, 0.1, 0.5, 5], xTickLabels: ['0', '.02', '0.1', '0.5', '5'], xLab: 23,
  vehicle: bpVehicle, dose: bpDose, mean: bpMean, err: bpErr, stars: bpStar});
txt(430, 421, 'Normalized HC LTP', 18.5, {anchor: 'middle', rot: true});
txt(588, 587, 'NYX-2925 (μM)', 17.5, {anchor: 'middle'});

/* ---------- Panel C ---------- */
const C = leftPanel({x0: 81, x1: 360, yt: 607, yb: 834, xDom: [-1.95, 106.6], yDom: [0, 1.637],
  xTicks: [0, 20, 40, 60, 80, 100], xMinor: [10, 30, 50, 70, 90], yTicks: d3.range(0, 1.51, 0.25),
  yMinor: d3.range(0.125, 1.6, 0.25), yFmt: '.2f', fs: 17.5, xLab: 17, yPad: 3});
const seriesC = {
  s0: {label: '0 nM', fill: '#fff', stroke: '#333', open: true, errC: '#3a3a3a', dir: 'both', segs: [[cBaseT, cOpenBase, cOpenBaseErr], [cPostT, cOpenPost, cOpenPostErr]]},
  s100: {label: '100 nM', fill: '#45b649', errC: '#9fd79a', dir: 'both', segs: [[cBaseT, cGreenBase, cGreenBaseErr], [cPostT, cGreenPost, cGreenPostErr]]},
  s1u: {label: '1 μM', fill: '#e3262b', errC: '#f3adad', dir: 'up', errW: 1.6, segs: [[cBaseT, cRedBase, cRedBaseErr], [cPostT, cRedPost, cRedPostErr]]},
  s5u: {label: '5 μM', fill: '#7b2a8a', errC: '#c7a3cd', dir: 'up', errW: 1.6, segs: [[cBaseT, cPurpleBase, cPurpleBaseErr], [cPostT, cPurplePost, cPurplePostErr]]}
};
drugBar(C.x, C.y, cDrugBar, 8.5, '#2b2b2b');
drugBar(C.x, C.y, cLFS, 4, '#e2e2e2', '#9a9a9a');
scatter(C.x, C.y, [seriesC.s0, seriesC.s100, seriesC.s1u, seriesC.s5u], 2.2, 2);
legend([seriesC.s5u, seriesC.s1u, seriesC.s100, seriesC.s0], 304, 312, [778, 791, 804, 817], 12.5, 3.4);
txt(C.x(45.8), 790, 'LFS', 15, {anchor: 'middle'});
txt(21, 730, 'Normalized HC fEPSP Slope', 18, {anchor: 'middle', rot: true});
txt(217, 872, 'Time (min)', 17.5, {anchor: 'middle'});

/* ---------- Panel C' ---------- */
rightPanel({x0: 477, x1: 698, yt: 612, yb: 834, xr: [573, 695], yDom: [0.5, 1.05],
  yTicks: [0.5, 0.6, 0.7, 0.8, 0.9, 1.0], xTickVals: [0, 0.1, 0.5, 5], xTickLabels: ['0', '0.1', '0.5', '5'], xLab: 23,
  vehicle: cpVehicle, dose: cpDose, mean: cpMean, err: cpErr, stars: cpStar});
txt(430, 720, 'Normalized HC LTD', 18.5, {anchor: 'middle', rot: true});
txt(587, 876, 'NYX-2925 (μM)', 17.5, {anchor: 'middle'});

/* ---------- Panel D ---------- */
const D = leftPanel({x0: 81, x1: 358, yt: 897, yb: 1126, xDom: [-1.7, 89.7], yDom: [0, 2.614],
  xTicks: [0, 20, 40, 60, 80], xMinor: [10, 30, 50, 70], yTicks: d3.range(0, 2.51, 0.5),
  yMinor: d3.range(0.25, 2.6, 0.5), yFmt: '.1f', fs: 18, xLab: 22, yPad: 3});
const seriesD = {
  s100: {label: '100 nM', fill: '#45b649', errC: '#a2d89b', dir: 'up', errW: 1.3, segs: [[dBaseT, dGreenBase, dGreenBaseErr], [dPostT, dGreenPost, dGreenPostErr]]},
  s500: {label: '500 nM', fill: '#2b4a9b', errC: '#8a9ac6', dir: 'up', errW: 1.5, segs: [[dBaseT, dBlueBase, dBlueBaseErr], [dPostT, dBluePost, dBluePostErr]]},
  s0: {label: '0 nM', fill: '#fff', stroke: '#333', open: true, errC: '#3a3a3a', dir: 'both', segs: [[dBaseT, dOpenBase, dOpenBaseErr], [dPostT, dOpenPost, dOpenPostErr]]},
  s5u: {label: '5 μM', fill: '#7b2a8a', errC: '#bf98c6', dir: 'down', errW: 1.3, segs: [[dBaseT, dPurpleBase, dPurpleBaseErr], [dPostT, dPurplePost, dPurplePostErr]]},
  s2u: {label: '2 μM', fill: '#e3262b', errC: '#f2a2a2', dir: 'down', errW: 1.3, segs: [[dBaseT, dRedBase, dRedBaseErr], [dPostT, dRedPost, dRedPostErr]]}
};
drugBar(D.x, D.y, dDrugBar, 9, '#2b2b2b');
scatter(D.x, D.y, [seriesD.s100, seriesD.s500, seriesD.s0, seriesD.s5u, seriesD.s2u], 2.3, 2.2);
legend([seriesD.s5u, seriesD.s2u, seriesD.s500, seriesD.s100, seriesD.s0], 299, 308, [1059, 1073, 1087, 1100, 1113], 13, 3.5);
dTheta.forEach(t => {
  const cx = D.x(t);
  svg.append('line').attr('x1', cx).attr('x2', cx).attr('y1', D.y(0.66)).attr('y2', D.y(0.56)).attr('stroke', '#111').attr('stroke-width', 0.9);
  svg.append('path').attr('d', `M${cx - 3.6},${D.y(0.66)}L${cx},${D.y(0.74)}L${cx + 3.6},${D.y(0.66)}Z`).attr('fill', '#111');
});
txt(191, 1094, '3 X Theta Trains', 17, {anchor: 'middle'});
txt(29, 1027, 'Normalized mPFC fEPSP Slope', 18.8, {anchor: 'middle', rot: true});
txt(222, 1171, 'Time (min)', 21.5, {anchor: 'middle'});

/* ---------- Panel D' ---------- */
rightPanel({x0: 477, x1: 700, yt: 898, yb: 1126, xr: [573, 697], yDom: [1.0, 2.013],
  yTicks: [1.0, 1.2, 1.4, 1.6, 1.8, 2.0], xTickVals: [0, 0.1, 0.5, 5], xTickLabels: ['0', '0.1', '0.5', '5'], xLab: 25,
  vehicle: dpVehicle, dose: dpDose, mean: dpMean, err: dpErr, stars: dpStar});
txt(430, 1008, 'Normalized MPFC LTP', 18.8, {anchor: 'middle', rot: true});
txt(590, 1171, 'NYX-2925 (μM)', 17.5, {anchor: 'middle'});

/* ---------- panel letters ---------- */
[['A', 2, 30], ['A’', 383, 32], ['B', 2, 322], ['B’', 384, 322], ['C', 2, 606], ['C’', 383, 608], ['D', 2, 893], ['D’', 383, 893]]
  .forEach(([s, x, y]) => txt(x, y, s, 24, {bold: true, fill: '#000'}));
</script>
</body></html>
